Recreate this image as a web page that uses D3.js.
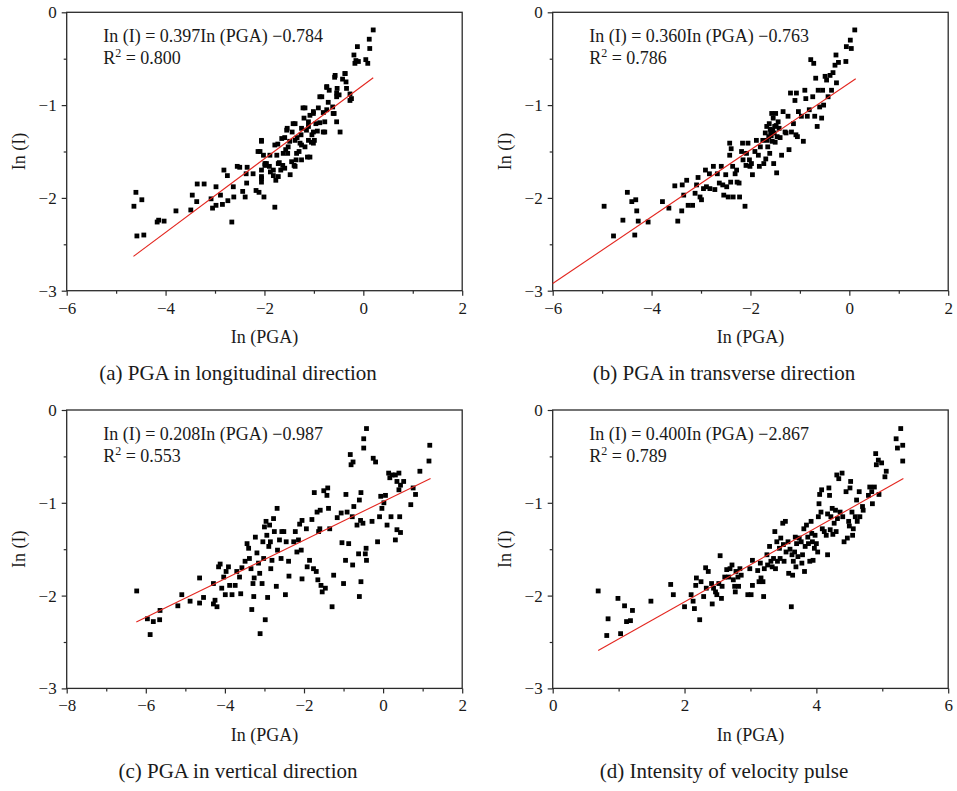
<!DOCTYPE html>
<html><head><meta charset="utf-8">
<script src="https://cdn.jsdelivr.net/npm/d3@7"></script>
<style>
html,body{margin:0;padding:0;background:#fff;}
svg{display:block;}
text{font-family:"Liberation Serif","Times New Roman",serif;fill:#1a1a1a;}
</style></head>
<body>
<script>
// ---------------- DATA ----------------
const pointsA = [
[-4.64,-2.09],[-4.60,-1.94],[-4.48,-2.02],[-4.58,-2.41],[-4.44,-2.40],[-4.17,-2.26],[-4.14,-2.24],[-4.03,-2.25],
[-3.79,-2.14],[-3.49,-2.13],[-3.46,-1.97],[-3.37,-2.04],[-3.36,-1.85],[-3.22,-1.85],[-3.08,-2.01],[-3.05,-2.11],
[-2.98,-2.08],[-2.98,-1.88],[-2.89,-1.97],[-2.85,-2.07],[-2.82,-1.70],[-2.75,-1.76],[-2.74,-2.03],[-2.66,-2.26],
[-2.63,-1.88],[-2.62,-1.99],[-2.55,-1.66],[-2.50,-1.67],[-2.44,-1.93],[-2.39,-1.99],[-2.37,-1.74],[-2.36,-1.84],
[-2.35,-1.67],[-2.23,-1.74],[-2.17,-1.92],[-2.11,-1.94],[-2.09,-1.50],[-2.06,-1.39],[-2.06,-1.83],[-2.06,-1.77],
[-2.02,-1.54],[-2.01,-1.99],[-1.99,-1.65],[-1.96,-1.63],[-1.90,-1.66],[-1.88,-1.72],[-1.82,-1.76],[-1.79,-2.10],
[-1.77,-1.81],[-1.75,-1.54],[-1.73,-1.42],[-1.70,-1.62],[-1.67,-1.70],[-1.63,-1.65],[-1.59,-1.35],[-1.57,-1.48],
[-1.54,-1.25],[-1.53,-1.52],[-1.49,-1.39],[-1.44,-1.29],[-1.42,-1.20],[-1.40,-1.65],[-1.36,-1.59],[-1.34,-1.35],
[-1.30,-1.50],[-1.28,-1.41],[-1.26,-1.32],[-1.22,-1.03],[-1.20,-1.14],[-1.18,-1.45],[-1.15,-1.27],[-1.13,-1.56],
[-1.11,-1.23],[-1.08,-1.11],[-1.05,-1.40],[-1.04,-1.32],[-1.01,-1.09],[-0.99,-1.38],[-0.96,-1.20],[-0.93,-1.28],
[-0.91,-1.03],[-0.88,-1.19],[-0.84,-0.91],[-0.81,-1.08],[-0.78,-1.29],[-0.74,-0.81],[-0.71,-0.97],[-0.69,-0.84],
[-0.62,-1.02],[-0.59,-1.09],[-0.58,-0.70],[-0.54,-0.91],[-0.53,-0.82],[-0.49,-0.89],[-0.47,-1.29],[-0.42,-0.72],
[-0.37,-0.66],[-0.35,-0.75],[-0.34,-0.82],[-0.27,-0.88],[-0.24,-0.93],[-0.19,-0.46],[-0.17,-0.55],[-0.15,-0.52],
[-0.12,-0.37],[-0.10,-0.53],[0.05,-0.51],[0.09,-0.55],[0.12,-0.29],[0.13,-0.39],[0.20,-0.19],
[-0.57,-0.68],[-0.37,-0.66],[-0.74,-0.80],[-0.54,-0.87],[-0.27,-0.95],[-0.88,-0.91],[-1.18,-1.03],[-1.01,-1.07],
[-0.74,-1.05],[-0.61,-1.09],[-1.38,-1.20],[-1.11,-1.18],[-0.78,-1.18],[-0.54,-1.18],[-1.55,-1.27],[-1.25,-1.25],
[-1.01,-1.29],[-0.81,-1.29],[-2.06,-1.38],[-1.65,-1.36],[-1.38,-1.38],[-1.11,-1.38],[-1.79,-1.43],[-1.52,-1.45],
[-1.25,-1.43],[-1.01,-1.41],[-2.13,-1.50],[-1.89,-1.54],[-1.62,-1.52],[-1.35,-1.52],[-1.08,-1.56],[-1.99,-1.63],
[-1.72,-1.63],[-1.45,-1.61],[-1.25,-1.59],[-2.06,-1.70],[-1.82,-1.70],[-1.59,-1.68],[-1.38,-1.66],[-2.06,-1.79],
[-1.72,-1.77],[-1.48,-1.75]
];
const pointsB = [
[-4.96,-2.09],[-4.77,-2.41],[-4.58,-2.24],[-4.49,-1.94],[-4.40,-2.04],[-4.32,-2.02],[-4.30,-2.14],[-4.34,-2.40],
[-4.27,-2.25],[-4.07,-2.26],[-3.78,-2.04],[-3.65,-2.11],[-3.53,-1.87],[-3.47,-2.25],[-3.39,-2.14],[-3.38,-1.86],
[-3.35,-1.97],[-3.29,-1.81],[-3.26,-2.08],[-3.17,-2.08],[-3.12,-1.95],[-3.09,-1.86],[-3.06,-1.78],[-3.02,-1.99],
[-2.99,-2.02],[-2.95,-1.90],[-2.91,-1.70],[-2.89,-1.88],[-2.83,-1.74],[-2.82,-1.90],[-2.75,-1.66],[-2.72,-1.91],
[-2.67,-1.74],[-2.63,-1.84],[-2.59,-1.66],[-2.56,-1.86],[-2.54,-1.97],[-2.50,-1.75],[-2.48,-1.88],[-2.45,-1.99],
[-2.42,-1.41],[-2.42,-1.54],[-2.40,-1.83],[-2.39,-1.47],[-2.36,-1.66],[-2.35,-1.99],[-2.31,-1.74],[-2.28,-1.70],
[-2.27,-1.83],[-2.23,-1.84],[-2.22,-1.99],[-2.18,-1.50],[-2.16,-1.41],[-2.15,-1.59],[-2.11,-2.09],[-2.09,-1.65],
[-2.08,-1.52],[-2.05,-1.41],[-2.02,-1.59],[-2.01,-1.66],[-1.98,-1.63],[-1.96,-1.75],[-1.91,-1.50],[-1.88,-1.38],
[-1.84,-1.54],[-1.82,-1.66],[-1.80,-1.45],[-1.75,-1.38],[-1.73,-1.63],[-1.70,-1.30],[-1.69,-1.58],[-1.67,-1.23],
[-1.65,-1.45],[-1.63,-1.34],[-1.62,-1.20],[-1.61,-1.52],[-1.59,-1.29],[-1.57,-1.09],[-1.56,-1.39],[-1.54,-1.14],
[-1.53,-1.63],[-1.51,-1.23],[-1.49,-1.09],[-1.47,-1.73],[-1.46,-1.34],[-1.44,-1.18],[-1.42,-1.25],[-1.37,-1.54],
[-1.34,-1.07],[-1.30,-1.29],[-1.28,-1.30],[-1.24,-1.12],[-1.22,-1.48],[-1.19,-0.87],[-1.17,-1.29],[-1.13,-1.20],
[-1.10,-0.95],[-1.08,-1.32],[-1.07,-0.87],[-1.05,-1.34],[-1.03,-1.07],[-0.97,-1.12],[-0.93,-1.39],[-0.90,-0.84],
[-0.88,-0.93],[-0.85,-1.12],[-0.81,-1.05],[-0.78,-0.51],[-0.74,-0.91],[-0.72,-0.55],[-0.70,-1.12],[-0.68,-0.71],
[-0.65,-1.23],[-0.63,-0.84],[-0.60,-1.02],[-0.56,-1.14],[-0.54,-0.84],[-0.52,-1.00],[-0.49,-0.69],[-0.46,-0.73],
[-0.43,-0.91],[-0.39,-0.68],[-0.36,-0.84],[-0.33,-0.65],[-0.29,-0.57],[-0.27,-0.46],[-0.26,-0.76],[-0.22,-0.54],
[-0.07,-0.53],[-0.06,-0.37],[0.02,-0.30],[0.04,-0.39],[0.11,-0.19],
[-1.60,-1.26],[-1.58,-1.33],[-1.55,-1.27],[-1.52,-1.30],[-1.50,-1.40],[-1.48,-1.22],[-1.66,-1.38],[-1.40,-1.35]
];
const pointsC = [
[-6.23,-1.95],[-5.96,-2.25],[-5.89,-2.42],[-5.81,-2.28],[-5.65,-2.26],[-5.64,-2.16],[-5.19,-2.11],[-5.09,-1.99],
[-4.88,-2.06],[-4.64,-1.81],[-4.64,-2.08],[-4.54,-2.02],[-4.29,-1.87],[-4.29,-2.09],[-4.25,-2.05],[-4.20,-2.12],
[-4.16,-1.69],[-4.12,-1.66],[-4.08,-1.92],[-4.03,-1.80],[-3.99,-1.99],[-3.97,-1.74],[-3.91,-1.69],[-3.88,-1.89],
[-3.82,-1.99],[-3.74,-1.89],[-3.70,-1.74],[-3.63,-1.80],[-3.60,-1.98],[-3.57,-1.70],[-3.49,-1.63],[-3.44,-1.44],
[-3.40,-1.49],[-3.38,-1.60],[-3.34,-1.71],[-3.32,-2.15],[-3.29,-1.87],[-3.27,-2.01],[-3.26,-1.81],[-3.23,-1.37],
[-3.19,-1.54],[-3.15,-1.65],[-3.12,-1.76],[-3.11,-2.41],[-3.06,-1.87],[-3.04,-1.42],[-3.02,-1.60],[-3.00,-1.26],
[-2.98,-2.26],[-2.96,-1.20],[-2.94,-1.35],[-2.92,-2.02],[-2.89,-1.47],[-2.87,-1.24],[-2.85,-1.42],[-2.84,-1.71],
[-2.81,-1.62],[-2.77,-1.17],[-2.75,-1.31],[-2.70,-1.90],[-2.68,-1.06],[-2.67,-1.51],[-2.62,-1.40],[-2.58,-1.60],
[-2.56,-1.31],[-2.51,-1.31],[-2.47,-1.99],[-2.45,-1.42],[-2.39,-1.63],[-2.38,-1.79],[-2.26,-1.42],[-2.22,-1.31],
[-2.18,-1.53],[-2.14,-1.40],[-2.11,-1.23],[-2.07,-1.51],[-2.05,-1.82],[-2.05,-1.19],[-1.94,-1.28],[-1.92,-1.69],
[-1.86,-1.62],[-1.80,-1.18],[-1.76,-1.71],[-1.74,-0.89],[-1.69,-1.74],[-1.67,-1.10],[-1.65,-1.83],[-1.63,-1.31],
[-1.60,-1.28],[-1.59,-1.08],[-1.57,-1.89],[-1.54,-1.96],[-1.50,-0.87],[-1.46,-1.92],[-1.42,-0.92],[-1.40,-0.84],
[-1.38,-1.06],[-1.35,-1.28],[-1.29,-2.12],[-1.25,-1.78],[-1.16,-1.16],[-1.06,-1.11],[-1.04,-1.43],[-1.00,-1.87],
[-0.95,-1.62],[-0.94,-0.91],[-0.91,-1.10],[-0.87,-1.44],[-0.83,-0.48],[-0.81,-0.59],[-0.78,-1.15],[-0.77,-1.67],
[-0.76,-0.56],[-0.74,-1.04],[-0.66,-1.24],[-0.62,-1.55],[-0.60,-0.97],[-0.60,-2.01],[-0.57,-1.19],[-0.56,-0.89],
[-0.56,-1.85],[-0.51,-1.22],[-0.49,-0.41],[-0.49,-0.31],[-0.45,-1.55],[-0.43,-1.49],[-0.42,-1.62],[-0.42,-0.20],
[-0.28,-1.20],[-0.25,-0.52],[-0.19,-0.56],[-0.14,-1.42],[-0.09,-1.15],[-0.06,-0.93],[-0.03,-1.06],[0.02,-1.00],
[0.06,-0.92],[0.10,-1.24],[0.14,-0.68],[0.17,-0.73],[0.20,-1.15],[0.23,-0.70],[0.31,-0.70],[0.31,-1.40],
[0.35,-1.29],[0.35,-0.77],[0.40,-0.68],[0.40,-0.86],[0.42,-1.15],[0.44,-1.32],[0.44,-0.81],[0.52,-0.77],
[0.70,-1.02],[0.76,-0.84],[0.82,-0.91],[0.93,-0.66],[1.16,-0.55],[1.18,-0.38]
];
const pointsD = [
[0.69,-1.95],[0.82,-2.43],[0.84,-2.25],[0.99,-2.03],[1.03,-2.41],[1.09,-2.11],[1.12,-2.28],[1.18,-2.27],
[1.21,-2.16],[1.49,-2.06],[1.79,-1.88],[1.83,-1.99],[2.00,-2.12],[2.10,-1.99],[2.13,-2.06],[2.15,-2.14],
[2.17,-1.89],[2.18,-1.81],[2.23,-2.26],[2.25,-1.85],[2.29,-2.01],[2.32,-1.70],[2.33,-1.92],[2.36,-1.74],
[2.41,-1.87],[2.42,-2.09],[2.44,-1.92],[2.47,-1.96],[2.49,-1.99],[2.52,-1.87],[2.54,-1.57],[2.56,-2.03],
[2.57,-1.90],[2.61,-1.80],[2.64,-1.72],[2.67,-1.80],[2.69,-1.71],[2.72,-1.67],[2.74,-1.83],[2.76,-1.90],
[2.77,-1.96],[2.78,-1.74],[2.81,-1.80],[2.82,-1.90],[2.84,-1.71],[2.86,-1.78],[2.96,-1.99],[2.99,-1.71],
[3.01,-1.99],[3.03,-1.62],[3.03,-1.89],[3.11,-1.73],[3.13,-1.85],[3.15,-1.65],[3.16,-1.81],[3.19,-1.85],
[3.20,-2.01],[3.21,-1.71],[3.25,-1.56],[3.26,-1.67],[3.29,-1.47],[3.31,-1.63],[3.33,-1.69],[3.35,-1.60],
[3.37,-1.31],[3.38,-1.71],[3.40,-1.42],[3.41,-1.63],[3.44,-1.49],[3.45,-1.60],[3.46,-1.38],[3.49,-1.22],
[3.50,-1.45],[3.51,-1.63],[3.53,-1.20],[3.54,-1.53],[3.57,-1.42],[3.58,-1.76],[3.60,-1.50],[3.62,-2.12],
[3.63,-1.56],[3.64,-1.78],[3.65,-1.63],[3.67,-1.53],[3.68,-1.37],[3.69,-1.69],[3.70,-1.44],[3.72,-1.58],
[3.74,-1.38],[3.77,-1.42],[3.78,-1.65],[3.79,-1.56],[3.81,-1.28],[3.82,-1.74],[3.83,-1.47],[3.85,-1.24],
[3.87,-1.37],[3.88,-1.44],[3.90,-1.63],[3.92,-1.20],[3.93,-1.33],[3.94,-1.42],[3.95,-1.62],[3.97,-1.49],
[3.98,-1.35],[4.00,-1.44],[4.02,-1.53],[4.03,-1.15],[4.04,-1.01],[4.05,-0.91],[4.07,-1.10],[4.08,-0.86],
[4.09,-1.28],[4.12,-1.31],[4.15,-1.35],[4.17,-1.56],[4.17,-1.12],[4.19,-0.84],[4.20,-0.92],[4.21,-1.29],
[4.22,-1.15],[4.24,-1.06],[4.25,-1.34],[4.27,-1.22],[4.29,-1.08],[4.30,-1.31],[4.31,-0.70],[4.32,-1.17],
[4.34,-0.74],[4.36,-1.10],[4.39,-0.68],[4.40,-1.15],[4.42,-1.42],[4.45,-0.88],[4.47,-1.38],[4.49,-1.20],
[4.50,-1.25],[4.51,-0.84],[4.52,-0.77],[4.54,-1.10],[4.55,-1.35],[4.56,-1.28],[4.59,-1.15],[4.61,-0.97],
[4.62,-1.20],[4.65,-0.88],[4.66,-1.15],[4.70,-1.04],[4.71,-1.08],[4.79,-0.92],[4.81,-0.83],[4.84,-0.88],
[4.85,-1.01],[4.88,-0.83],[4.90,-0.47],[4.91,-0.59],[4.94,-0.54],[4.95,-0.91],[4.99,-0.57],[5.04,-0.72],
[5.06,-0.66],[5.21,-0.31],[5.23,-0.41],[5.28,-0.20],[5.31,-0.38],[5.31,-0.55]
];
// fitted lines: [slope, intercept, xStart, xEnd]
const fitA = [0.397, -0.784, -4.65, 0.20];
const fitB = [0.360, -0.763, -6.00, 0.13];
const fitC = [0.208, -0.987, -6.24, 1.20];
const fitD = [0.400, -2.867, 0.69, 5.32];
const equations = ["In (I) = 0.397In (PGA) \u22120.784","In (I) = 0.360In (PGA) \u22120.763","In (I) = 0.208In (PGA) \u22120.987","In (I) = 0.400In (PGA) \u22122.867"];
const r2Values = ["0.800","0.786","0.553","0.789"];
const captions = ["(a) PGA in longitudinal direction","(b) PGA in transverse direction","(c) PGA in vertical direction","(d) Intensity of velocity pulse"];
const xDomains = [[-6,2],[-6,2],[-8,2],[0,6]];
const xTicksA = [-6,-4,-2,0,2], xTicksC = [-8,-6,-4,-2,0,2], xTicksD = [0,2,4,6];
const yTicks = [0,-1,-2,-3];
const xLabel = "In (PGA)", yLabel = "In (I)";

// ---------------- DRAW ----------------
const svg = d3.select("body").append("svg").attr("width",957).attr("height",791);
const PW = 395.5, PH = 278.4;
const layout = [
  {left:66.7, top:12.3, capX:238, capY:380},
  {left:552.7, top:12.3, capX:724, capY:380},
  {left:66.7, top:410, capX:238, capY:778},
  {left:552.7, top:410, capX:724, capY:778}
];
const panels = [
  {pts:pointsA, fit:fitA, xt:xTicksA},
  {pts:pointsB, fit:fitB, xt:xTicksA},
  {pts:pointsC, fit:fitC, xt:xTicksC},
  {pts:pointsD, fit:fitD, xt:xTicksD}
];
const fmt = d => (d<0 ? "\u2212" : "") + Math.abs(d);
const axisColor = "#2a2a2a";

panels.forEach((p,i) => {
  const L = layout[i];
  const g = svg.append("g").attr("transform",`translate(${L.left},${L.top})`);
  const x = d3.scaleLinear().domain(xDomains[i]).range([0,PW]);
  const y = d3.scaleLinear().domain([-3,0]).range([PH,0]);
  const xMinor = d3.range(xDomains[i][0]+1, xDomains[i][1], 2);
  const yMinor = [-0.5,-1.5,-2.5];

  // minor ticks
  g.append("g").attr("transform",`translate(0,${PH})`)
    .call(d3.axisBottom(x).tickValues(xMinor).tickSize(3).tickFormat(""))
    .call(a=>a.select(".domain").remove());
  g.append("g")
    .call(d3.axisLeft(y).tickValues(yMinor).tickSize(3).tickFormat(""))
    .call(a=>a.select(".domain").remove());
  // major ticks
  const xa = g.append("g").attr("transform",`translate(0,${PH})`)
    .call(d3.axisBottom(x).tickValues(p.xt).tickSize(5).tickPadding(6).tickFormat(fmt));
  const ya = g.append("g")
    .call(d3.axisLeft(y).tickValues(yTicks).tickSize(5).tickPadding(5).tickFormat(fmt));
  [xa,ya].forEach(a=>{
    a.select(".domain").remove();
    a.selectAll("text").attr("font-size",17).attr("font-family","Liberation Serif").attr("fill","#1a1a1a");
  });
  g.selectAll(".tick line").attr("stroke",axisColor).attr("stroke-width",1.2);

  // frame
  g.append("rect").attr("width",PW).attr("height",PH)
    .attr("fill","none").attr("stroke",axisColor).attr("stroke-width",1.3);

  // points
  g.append("g").selectAll("rect").data(p.pts).join("rect")
    .attr("x",d=>x(d[0])-2.4).attr("y",d=>y(d[1])-2.4)
    .attr("width",4.8).attr("height",4.8).attr("fill","#000");

  // fit line
  const f = p.fit;
  g.append("line")
    .attr("x1",x(f[2])).attr("y1",y(f[0]*f[2]+f[1]))
    .attr("x2",x(f[3])).attr("y2",y(f[0]*f[3]+f[1]))
    .attr("stroke","#e3261f").attr("stroke-width",1.1);

  // equation
  const ex = (i%2===0) ? 36.5 : 36.5;
  g.append("text").attr("x",ex).attr("y",29.5).attr("font-size",18).text(equations[i]);
  const r = g.append("text").attr("x",ex).attr("y",51.5).attr("font-size",18);
  r.append("tspan").text("R");
  r.append("tspan").attr("font-size",12).attr("dy",-7).text("2");
  r.append("tspan").attr("dy",7).text(" = " + r2Values[i]);

  // axis labels
  g.append("text").attr("x",PW/2).attr("y",PH+52.5).attr("text-anchor","middle")
    .attr("font-size",18).text(xLabel);
  g.append("text").attr("transform",`translate(${-42},${PH/2}) rotate(-90)`)
    .attr("text-anchor","middle").attr("font-size",18).text(yLabel);

  // caption
  svg.append("text").attr("x",L.capX).attr("y",L.capY).attr("text-anchor","middle")
    .attr("font-size",21).text(captions[i]);
});
</script>
</body></html>
